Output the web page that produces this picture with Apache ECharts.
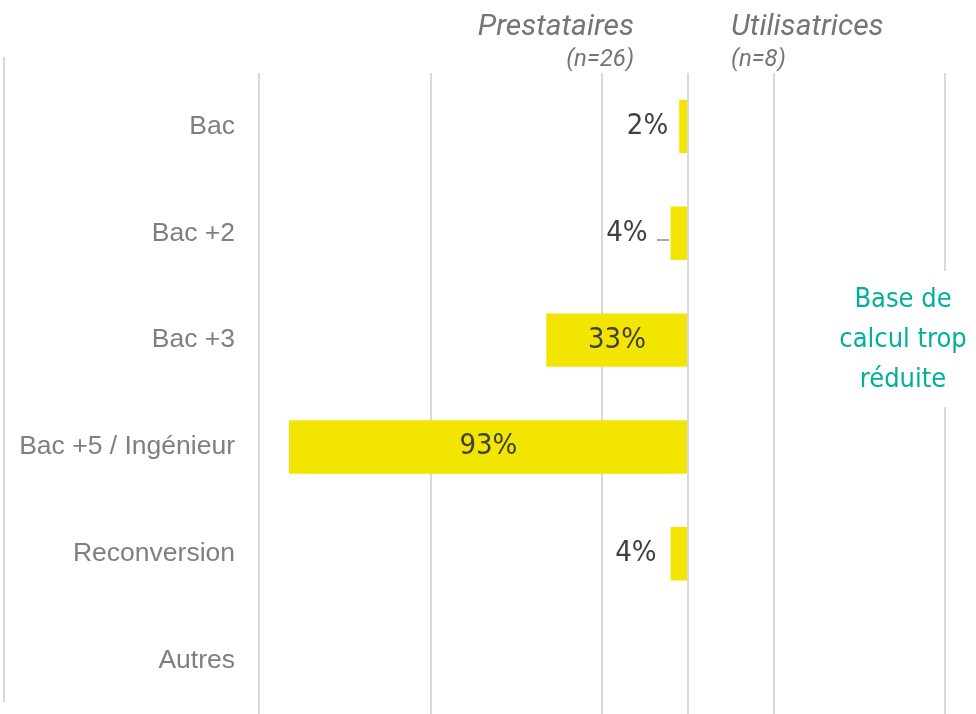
<!DOCTYPE html>
<html>
<head>
<meta charset="utf-8">
<script src="https://cdn.jsdelivr.net/npm/echarts@6/dist/echarts.min.js"></script>
<style>
  html, body { margin: 0; padding: 0; background: #fff; }
  #chart { width: 976px; height: 714px; }
</style>
</head>
<body>
<div id="chart"></div>
<script>
  // niveaux d'étude
  var categories = ['Bac', 'Bac +2', 'Bac +3', 'Bac +5 / Ingénieur', 'Reconversion', 'Autres']
  // prestataires (%), drawn to the left of zero
  var prestataires = [2, 4, 33, 93, 4, 0]
  var xTicks = [-100, -60, -20, 20, 60]

  var labelFont = "'DejaVu Sans Condensed', 'DejaVu Sans', sans-serif"
  var gridColor = '#d9d9d9'

  var chart = echarts.init(document.getElementById('chart'))

  // small values get their label outside, left of the bar
  var labelDistance = [11, 23, 0, 0, 14, 0]
  var barData = prestataires.map(function (v, i) {
    var item = { value: -v }
    if (v === 0) {
      item.label = { show: false }
    } else if (v < 10) {
      item.label = { position: 'left', distance: labelDistance[i] }
    } else {
      item.label = { position: 'inside' }
    }
    return item
  })

  chart.setOption({
    animation: false,
    grid: { left: 259, right: 31, top: 73, bottom: -7, containLabel: false },
    xAxis: {
      type: 'value',
      min: xTicks[0],
      max: xTicks[xTicks.length - 1],
      interval: 40,
      axisLabel: { show: false },
      axisLine: { show: false },
      axisTick: { show: false },
      splitLine: { show: true, lineStyle: { color: gridColor, width: 2 } }
    },
    yAxis: {
      type: 'category',
      inverse: true,
      data: categories,
      axisLine: { show: false },
      axisTick: { show: false },
      axisLabel: {
        margin: 24,
        fontSize: 26.5,
        color: '#7f7f7f',
        fontFamily: "'Liberation Sans', Arial, sans-serif"
      }
    },
    series: [{
      type: 'bar',
      data: barData,
      barWidth: '50%',
      itemStyle: { color: '#f2e500' },
      label: {
        show: true,
        fontSize: 29,
        color: '#404040',
        fontFamily: labelFont,
        formatter: function (p) { return Math.abs(p.value) + '%' }
      },
      markLine: {
        silent: true,
        symbol: 'none',
        label: { show: false },
        lineStyle: { color: gridColor, width: 2, type: 'solid' },
        data: [{ xAxis: 0 }]
      }
    }],
    graphic: [
      // leader line for Bac +2 label
      {
        type: 'line',
        shape: { x1: 657, y1: 240, x2: 669, y2: 240 },
        style: { stroke: '#a6a6a6', lineWidth: 2 }
      },
      {
        type: 'line',
        shape: { x1: 4, y1: 57, x2: 4, y2: 702 },
        style: { stroke: gridColor, lineWidth: 2 }
      },
      {
        type: 'text', x: 634, y: 27,
        style: { text: 'Prestataires', font: 'italic 30px Roboto', fill: '#757575', align: 'right', verticalAlign: 'middle' }
      },
      {
        type: 'text', x: 634, y: 60,
        style: { text: '(n=26)', font: 'italic 24px Roboto', fill: '#757575', align: 'right', verticalAlign: 'middle' }
      },
      {
        type: 'text', x: 731, y: 27,
        style: { text: 'Utilisatrices', font: 'italic 30px Roboto', fill: '#757575', align: 'left', verticalAlign: 'middle' }
      },
      {
        type: 'text', x: 731, y: 60,
        style: { text: '(n=8)', font: 'italic 24px Roboto', fill: '#757575', align: 'left', verticalAlign: 'middle' }
      },
      {
        type: 'rect', z: 100,
        shape: { x: 830, y: 271, width: 146, height: 136 },
        style: { fill: '#fff' }
      },
      {
        type: 'text', z: 101, x: 903, y: 340,
        style: {
          text: 'Base de\ncalcul trop\nréduite',
          font: '27px ' + labelFont,
          fill: '#00b09b',
          align: 'center',
          verticalAlign: 'middle',
          lineHeight: 40
        }
      }
    ]
  })
</script>
</body>
</html>
